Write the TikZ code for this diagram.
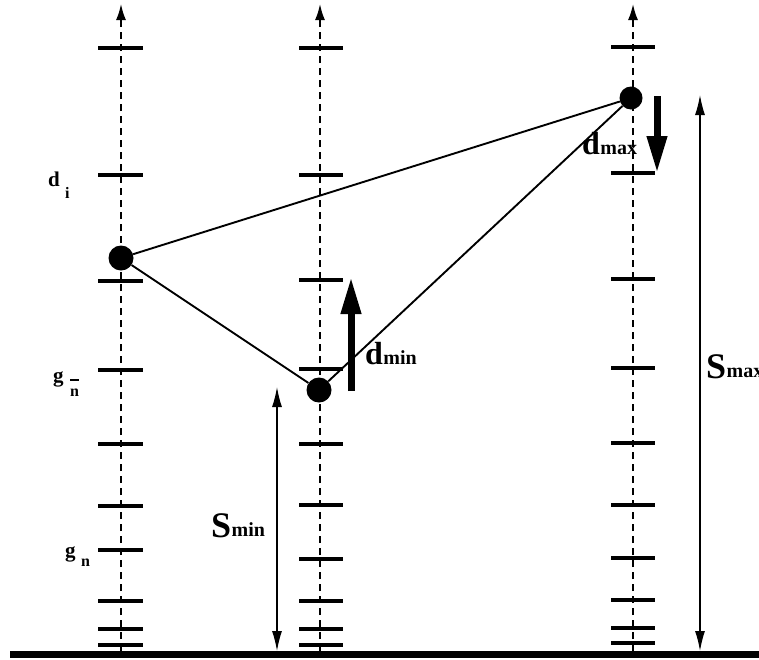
\documentclass[tikz,border=0pt]{standalone}
\usepackage{fontspec}
\setmainfont{Liberation Serif}
\usetikzlibrary{arrows.meta}
\begin{document}
\begin{tikzpicture}[x=1pt,y=-1pt,
  axisline/.style={line width=1.8pt, dash pattern=on 7pt off 5pt, -{Latex[length=16pt,width=10pt]}},
  tickmark/.style={line width=3.5pt},
  dot/.style={circle, fill=black, inner sep=0pt, minimum size=#1},
  edge/.style={line width=1.9pt},
  dimarrow/.style={line width=1.3pt, {Latex[length=20pt,width=10pt]}-{Latex[length=20pt,width=10pt]}},
  bigarrow/.style={line width=7pt, -{Triangle[length=37pt,width=19pt]}},
  ground/.style={line width=7pt},
  lbl/.style={inner sep=0pt, anchor=base west},
  big/.style={font=\bfseries\fontsize{36}{38}\selectfont},
  mid/.style={font=\bfseries\fontsize{32}{34}\selectfont},
  sub/.style={font=\bfseries\fontsize{20}{22}\selectfont},
  small/.style={font=\bfseries\fontsize{21}{22}\selectfont},
  smallsub/.style={font=\bfseries\fontsize{16}{17}\selectfont}]
\useasboundingbox (0,0) rectangle (759,659);

% ground
\coordinate (g0) at (10,654.5);
\coordinate (g1) at (770,654.5);
\draw[ground] (g0) -- (g1);

% columns
\coordinate (c1b) at (121,651); \coordinate (c1t) at (121,4);
\coordinate (c2b) at (320,651); \coordinate (c2t) at (320,4);
\coordinate (c3b) at (633,651); \coordinate (c3t) at (633,4);
\draw[axisline] (c1b) -- (c1t);
\draw[axisline] (c2b) -- (c2t);
\draw[axisline] (c3b) -- (c3t);

% ticks
\foreach \y in {48,175,281,370,444,506,550,601,629,645}
  \draw[tickmark] (98,\y) -- (143,\y);
\foreach \y in {48,175,280,369,444,505,559,601,629,645}
  \draw[tickmark] (299,\y) -- (343,\y);
\foreach \y in {47,173,279,368,443,505,558,600,628,643}
  \draw[tickmark] (611,\y) -- (655,\y);

% dots and triangle
\node[dot=25pt] (A) at (121,258) {};
\node[dot=25pt] (B) at (319,390) {};
\node[dot=23pt] (C) at (631,98) {};
\draw[edge] (A) -- (C);
\draw[edge] (A) -- (B);
\draw[edge] (B) -- (C);

% d arrows
\coordinate (dmaxT) at (657,96); \coordinate (dmaxH) at (657,173);
\draw[bigarrow] (dmaxT) -- (dmaxH);
\coordinate (dminT) at (351,391); \coordinate (dminH) at (351,277);
\draw[bigarrow] (dminT) -- (dminH);

% S arrows
\coordinate (sminT) at (277,387); \coordinate (sminB) at (277,651);
\draw[dimarrow] (sminT) -- (sminB);
\coordinate (smaxT) at (700,95); \coordinate (smaxB) at (700,651);
\draw[dimarrow] (smaxT) -- (smaxB);

% labels
\node[lbl,big] (Smax) at (706,378) {S};
\node[lbl,sub] (Smaxs) at ([yshift=1pt]Smax.base east) {max};
\node[lbl,big] (Smin) at (211,537) {S};
\node[lbl,sub] (Smins) at ([yshift=1pt]Smin.base east) {min};
\node[lbl,mid] (dmin) at (365,364) {d};
\node[lbl,sub] (dmins) at (dmin.base east) {min};
\node[lbl,mid] (dmax) at (582,154) {d};
\node[lbl,sub] (dmaxs) at (dmax.base east) {max};
\node[lbl,small] (di) at (48,186) {d};
\node[lbl,smallsub] (dis) at (65,198) {i};
\node[lbl,small] (gbar) at (53,382) {g};
\node[lbl,smallsub] (gbars) at (70,396) {n};
\draw[line width=1.4pt] (70,380) -- (79,380);
\node[lbl,small] (gn) at (65,557) {g};
\node[lbl,smallsub] (gns) at (81,566) {n};
\end{tikzpicture}
\end{document}
